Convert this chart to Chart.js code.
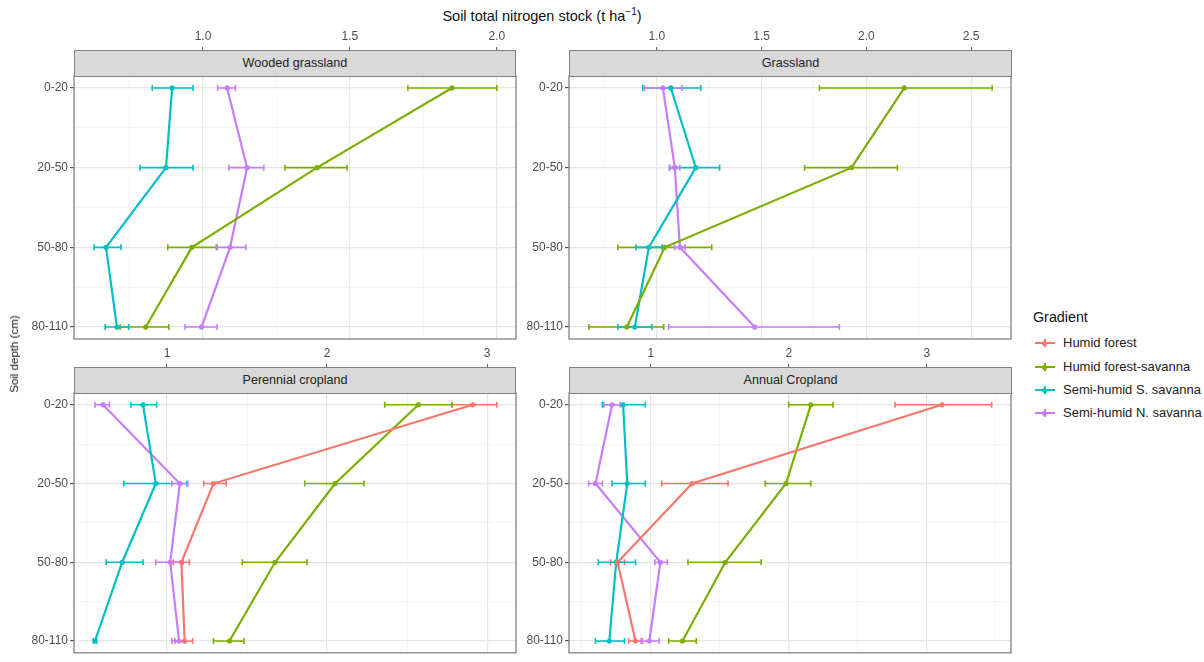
<!DOCTYPE html>
<html>
<head>
<meta charset="utf-8">
<script src="https://cdn.jsdelivr.net/npm/chart.js@4.4.1/dist/chart.umd.min.js"></script>
<style>
body{margin:0;background:#fff;font-family:"Liberation Sans",Arial,sans-serif;}
#wrap{position:relative;width:1204px;height:662px;overflow:hidden;}
canvas{position:absolute;}
.strip{position:absolute;background:#d9d9d9;border:1px solid #808080;box-sizing:border-box;height:27px;line-height:25px;font-size:12.6px;color:#222;text-align:center;}
.title{position:absolute;font-size:14.5px;color:#111;white-space:nowrap;}
.lg{position:absolute;left:1035px;height:12px;}
.lg .ln{position:absolute;left:0;top:5px;width:20px;height:2px;}
.lg .cap{position:absolute;left:9px;top:2px;width:2px;height:8px;}
.lg .pt{position:absolute;left:7px;top:4px;width:5px;height:5px;border-radius:50%;}
.lg span{position:absolute;left:28px;top:-2px;font-size:13px;color:#222;white-space:nowrap;}
</style>
</head>
<body>
<div id="wrap">
  <canvas id="c1" width="520" height="326" style="left:0;top:24px"></canvas>
  <canvas id="c2" width="520" height="326" style="left:495px;top:24px"></canvas>
  <canvas id="c3" width="520" height="321" style="left:0;top:341px"></canvas>
  <canvas id="c4" width="520" height="321" style="left:495px;top:341px"></canvas>

  <div class="strip" style="left:74px;top:50px;width:442px">Wooded grassland</div>
  <div class="strip" style="left:569px;top:50px;width:443px">Grassland</div>
  <div class="strip" style="left:74px;top:367px;width:442px">Perennial cropland</div>
  <div class="strip" style="left:569px;top:367px;width:443px">Annual Cropland</div>

  <div class="title" style="left:542px;top:6px;transform:translateX(-50%)">Soil total nitrogen stock (t ha<sup style="font-size:10px">&minus;1</sup>)</div>
  <div class="title" style="left:14px;top:354px;font-size:11.5px;transform:translate(-50%,-50%) rotate(-90deg)">Soil depth (cm)</div>

  <div class="title" style="left:1033px;top:309px;font-size:14.3px">Gradient</div>
  <div id="legend"></div>
</div>
<script>
// soil depth classes (cm), top to bottom
const depths = ['0-20', '20-50', '50-80', '80-110'];
const gradients = ['Humid forest', 'Humid forest-savanna', 'Semi-humid S. savanna', 'Semi-humid N. savanna'];
const colors = ['#F8766D', '#7CAE00', '#00BFC4', '#C77CFF'];

// values per gradient (same order as above), one entry per depth; null = not sampled
const woodedMean = [null, [1.847, 1.388, 0.962, 0.805], [0.895, 0.874, 0.670, 0.707], [1.082, 1.150, 1.092, 0.995]];
const woodedLow  = [null, [1.697, 1.279, 0.880, 0.718], [0.827, 0.786, 0.629, 0.667], [1.050, 1.088, 1.045, 0.939]];
const woodedHigh = [null, [2.000, 1.490, 1.048, 0.884], [0.966, 0.966, 0.721, 0.747], [1.110, 1.207, 1.146, 1.048]];

const grassMean = [null, [2.181, 1.929, 1.038, 0.857], [1.067, 1.186, 0.962, 0.895], [1.029, 1.086, 1.110, 1.467]];
const grassLow  = [null, [1.776, 1.705, 0.814, 0.676], [0.933, 1.062, 0.900, 0.814], [0.940, 1.060, 1.085, 1.057]];
const grassHigh = [null, [2.600, 2.148, 1.262, 1.033], [1.210, 1.300, 1.025, 0.976], [1.120, 1.110, 1.135, 1.871]];

const perenMean = [[2.91, 1.29, 1.09, 1.11], [2.57, 2.05, 1.675, 1.39], [0.85, 0.93, 0.72, 0.55], [0.60, 1.08, 1.02, 1.075]];
const perenLow  = [[2.78, 1.23, 1.04, 1.05], [2.36, 1.86, 1.47, 1.29], [0.775, 0.73, 0.62, 0.54], [0.55, 1.03, 0.93, 1.03]];
const perenHigh = [[3.06, 1.37, 1.14, 1.16], [2.78, 2.23, 1.875, 1.48], [0.935, 1.125, 0.85, 0.56], [0.64, 1.13, 1.10, 1.11]];

const annualMean = [[3.11, 1.30, 0.76, 0.89], [2.16, 1.98, 1.54, 1.23], [0.80, 0.83, 0.75, 0.70], [0.72, 0.60, 1.07, 0.99]];
const annualLow  = [[2.77, 1.08, 0.71, 0.84], [2.00, 1.83, 1.27, 1.13], [0.65, 0.72, 0.62, 0.60], [0.66, 0.55, 1.03, 0.93]];
const annualHigh = [[3.47, 1.56, 0.81, 0.94], [2.32, 2.16, 1.80, 1.33], [0.96, 0.96, 0.89, 0.81], [0.78, 0.65, 1.12, 1.06]];

function isMajor(v, step){ return Math.abs(v/step - Math.round(v/step)) < 1e-6; }

const panelPlugin = {
  id: 'panel',
  beforeDatasetsDraw(chart){
    const {ctx, scales:{x, y}} = chart;
    ctx.save();
    ctx.lineWidth = 1.6;
    chart.data.datasets.forEach(ds=>{
      ctx.strokeStyle = ds.borderColor;
      ds.data.forEach((p, i)=>{
        const yy = y.getPixelForValue(p.y);
        const x0 = x.getPixelForValue(ds.errLo[i]), x1 = x.getPixelForValue(ds.errHi[i]);
        ctx.beginPath();
        ctx.moveTo(x0, yy); ctx.lineTo(x1, yy);
        ctx.moveTo(x0, yy-3); ctx.lineTo(x0, yy+3);
        ctx.moveTo(x1, yy-3); ctx.lineTo(x1, yy+3);
        ctx.stroke();
      });
    });
    ctx.restore();
  },
  afterDraw(chart){
    const {ctx, chartArea:a} = chart;
    ctx.save();
    ctx.strokeStyle = '#808080'; ctx.lineWidth = 1.3;
    ctx.strokeRect(a.left, a.top, a.right-a.left, a.bottom-a.top);
    ctx.restore();
  }
};

function makeChart(id, mean, low, high, xmin, xmax, major, decimals, padBottom){
  const datasets = [];
  gradients.forEach((g, k)=>{
    if(!mean[k]) return;
    datasets.push({
      label: g,
      data: mean[k].map((v, i)=>({x: v, y: i})),
      errLo: low[k], errHi: high[k],
      borderColor: colors[k], backgroundColor: colors[k],
      borderWidth: 2.2, pointRadius: 2.6, pointBorderWidth: 0, tension: 0
    });
  });
  const tickFont = {family:'Liberation Sans', size:12};
  return new Chart(document.getElementById(id), {
    type: 'line',
    data: {datasets},
    options: {
      responsive: false, animation: false,
      layout: {padding: {left: 0, right: id==='c1'||id==='c3' ? 4 : 3, top: 0, bottom: padBottom}},
      plugins: {legend: {display: false}, tooltip: {enabled: false}},
      scales: {
        x: {
          type: 'linear', position: 'top', min: xmin, max: xmax,
          border: {display: false},
          afterFit: s=>{ s.height = 52; },
          ticks: {
            stepSize: major/2, includeBounds: false, autoSkip: false, maxRotation: 0,
            padding: 3, color: '#4d4d4d', font: tickFont,
            callback: v=> isMajor(v, major) ? v.toFixed(decimals) : ''
          },
          grid: {
            tickLength: 29,
            color: c=> isMajor(c.tick.value, major) ? '#e6e6e6' : '#f3f3f3',
            lineWidth: c=> isMajor(c.tick.value, major) ? 1.2 : 0.8,
            tickColor: c=> isMajor(c.tick.value, major) ? '#555' : 'rgba(0,0,0,0)',
            tickWidth: 1
          }
        },
        y: {
          type: 'linear', reverse: true, min: -0.15, max: 3.15,
          border: {display: false},
          afterFit: s=>{ s.width = 74; },
          ticks: {
            stepSize: 0.5, includeBounds: false, autoSkip: false,
            padding: 2, color: '#4d4d4d', font: tickFont,
            callback: v=> isMajor(v, 1) ? depths[Math.round(v)] : ''
          },
          grid: {
            tickLength: 4,
            color: c=> isMajor(c.tick.value, 1) ? '#e6e6e6' : '#f3f3f3',
            lineWidth: c=> isMajor(c.tick.value, 1) ? 1.2 : 0.8,
            tickColor: c=> isMajor(c.tick.value, 1) ? '#555' : 'rgba(0,0,0,0)'
          }
        }
      }
    },
    plugins: [panelPlugin]
  });
}

makeChart('c1', woodedMean, woodedLow, woodedHigh, 0.561, 2.065, 0.5, 1, 11);
makeChart('c2', grassMean, grassLow, grassHigh, 0.581, 2.69, 0.5, 1, 11);
makeChart('c3', perenMean, perenLow, perenHigh, 0.419, 3.18, 1, 0, 4);
makeChart('c4', annualMean, annualLow, annualHigh, 0.408, 3.61, 1, 0, 4);

// legend keys
const lg = document.getElementById('legend');
const legendY = [337, 361, 384, 407];
gradients.forEach((g, k)=>{
  const d = document.createElement('div');
  d.className = 'lg';
  d.style.top = legendY[k] + 'px';
  d.innerHTML = `<div class="ln" style="background:${colors[k]}"></div><div class="cap" style="background:${colors[k]}"></div><div class="pt" style="background:${colors[k]}"></div><span>${g}</span>`;
  lg.appendChild(d);
});
</script>
</body>
</html>
